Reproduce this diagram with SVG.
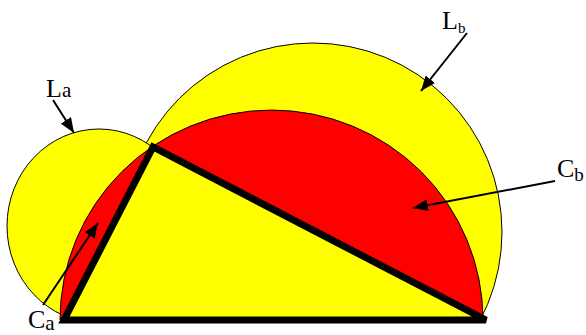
<svg xmlns="http://www.w3.org/2000/svg" width="586" height="335" viewBox="0 0 586 335">
<style>
.outl{stroke:#000;stroke-width:1}
.yel{fill:#FFFF00}
.red{fill:#FF0000}
.arr{stroke:#000;stroke-width:2;fill:none;marker-end:url(#ah)}
text{font-family:"Liberation Serif","Times New Roman",serif;fill:#000}
</style>
<defs>
<clipPath id="above"><rect x="0" y="0" width="586" height="320"/></clipPath>
<marker id="ah" markerWidth="16" markerHeight="12" refX="15" refY="6" orient="auto" markerUnits="userSpaceOnUse"><path d="M0,0 L15,6 L0,12 z" fill="#000"/></marker>
</defs>
<rect width="586" height="335" fill="#fff"/>
<g id="lune-b" clip-path="url(#above)"><circle cx="313" cy="232" r="189" class="yel outl"/></g>
<g id="lune-a" clip-path="url(#above)"><ellipse cx="99" cy="226" rx="92" ry="97" class="yel outl"/></g>
<g id="semicircle"><path d="M60,320 A211.5,210 0 0 1 483,320 Z" class="red outl"/></g>
<g id="triangle"><polygon points="64,320 486,320 153,147" class="yel" stroke="#000" stroke-width="7" stroke-linejoin="miter" stroke-miterlimit="2"/></g>
<g id="connectors">
<line x1="53" y1="100" x2="74" y2="133" class="arr"/>
<line x1="467" y1="33" x2="421" y2="91" class="arr"/>
<line x1="555" y1="181" x2="413" y2="208" class="arr"/>
<line x1="43" y1="305" x2="98" y2="223" class="arr"/>
</g>
<g id="labels">
<text x="46" y="97" font-size="26">L<tspan font-size="21">a</tspan></text>
<text x="442" y="29" font-size="26">L<tspan font-size="15" dy="4">b</tspan></text>
<text x="557" y="177" font-size="26">C<tspan font-size="19" dy="4">b</tspan></text>
<text x="28" y="328" font-size="26">C<tspan font-size="21" dy="2">a</tspan></text>
</g>
</svg>
